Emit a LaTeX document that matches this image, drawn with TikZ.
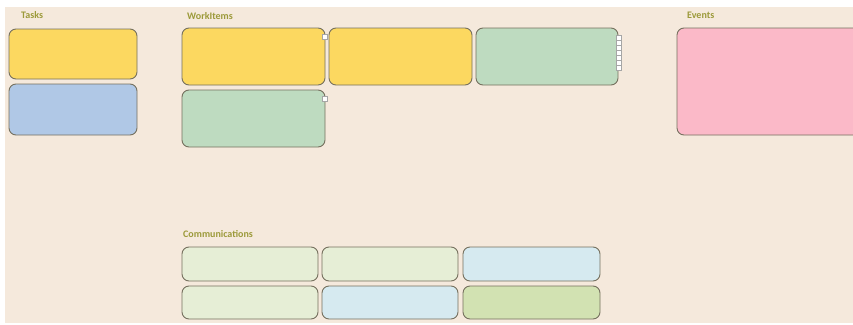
\documentclass[tikz,border=0pt]{standalone}
\usepackage{fontspec}
\setmainfont{Carlito}
\definecolor{bgc}{HTML}{F5E9DC}
\definecolor{lbl}{HTML}{9C9A3A}
\definecolor{yel}{HTML}{FCD860}
\definecolor{blu}{HTML}{B0C8E6}
\definecolor{grn}{HTML}{BEDBC0}
\definecolor{pnk}{HTML}{FBB9C8}
\definecolor{lgr}{HTML}{E6EED6}
\definecolor{lbl2}{HTML}{D6EAF0}
\definecolor{mgr}{HTML}{D2E2B2}
\definecolor{edge}{HTML}{75705E}
\tikzset{
  card/.style={draw=edge, line width=0.9pt, rounded corners=7pt},
  section/.style={anchor=west, inner sep=0pt, text=lbl, font=\fontsize{10}{11}\selectfont\bfseries},
  icon/.style={draw=gray!70, fill=white, line width=0.4pt, minimum size=5pt, inner sep=0pt},
}
\begin{document}
\begin{tikzpicture}[x=1pt,y=-1pt]
\useasboundingbox (0,0) rectangle (853,324);
\fill[white] (0,0) rectangle (853,324);
\fill[bgc] (5,7) rectangle (853,323);
% section labels
\node[section] (ltasks) at (21,15) {Tasks};
\node[section] (lwork) at (187,16) {WorkItems};
\node[section] (levents) at (687,15) {Events};
\node[section] (lcomm) at (183,234) {Communications};
% tasks
\draw[card, fill=yel] (9,29) rectangle (137,79);
\draw[card, fill=blu] (9,84) rectangle (137,135);
% work items
\draw[card, fill=yel] (182,28) rectangle (325,85);
\draw[card, fill=grn] (182,90) rectangle (325,147);
\draw[card, fill=yel] (329,28) rectangle (472,85);
\draw[card, fill=grn] (476,28) rectangle (618,85);
\node[icon] (i1) at (325,37) {};
\node[icon] (i2) at (325,99) {};
\foreach \k in {0,...,6} {\node[icon] (s\k) at (618.5,37.5+5*\k) {};}
% events
\draw[card, fill=pnk] (677,28) rectangle (862,135);
% communications
\draw[card, fill=lgr] (182,247) rectangle (318,281);
\draw[card, fill=lgr] (322,247) rectangle (458,281);
\draw[card, fill=lbl2] (463,247) rectangle (600,281);
\draw[card, fill=lgr] (182,286) rectangle (318,319);
\draw[card, fill=lbl2] (322,286) rectangle (458,319);
\draw[card, fill=mgr] (463,286) rectangle (600,319);
\end{tikzpicture}
\end{document}
